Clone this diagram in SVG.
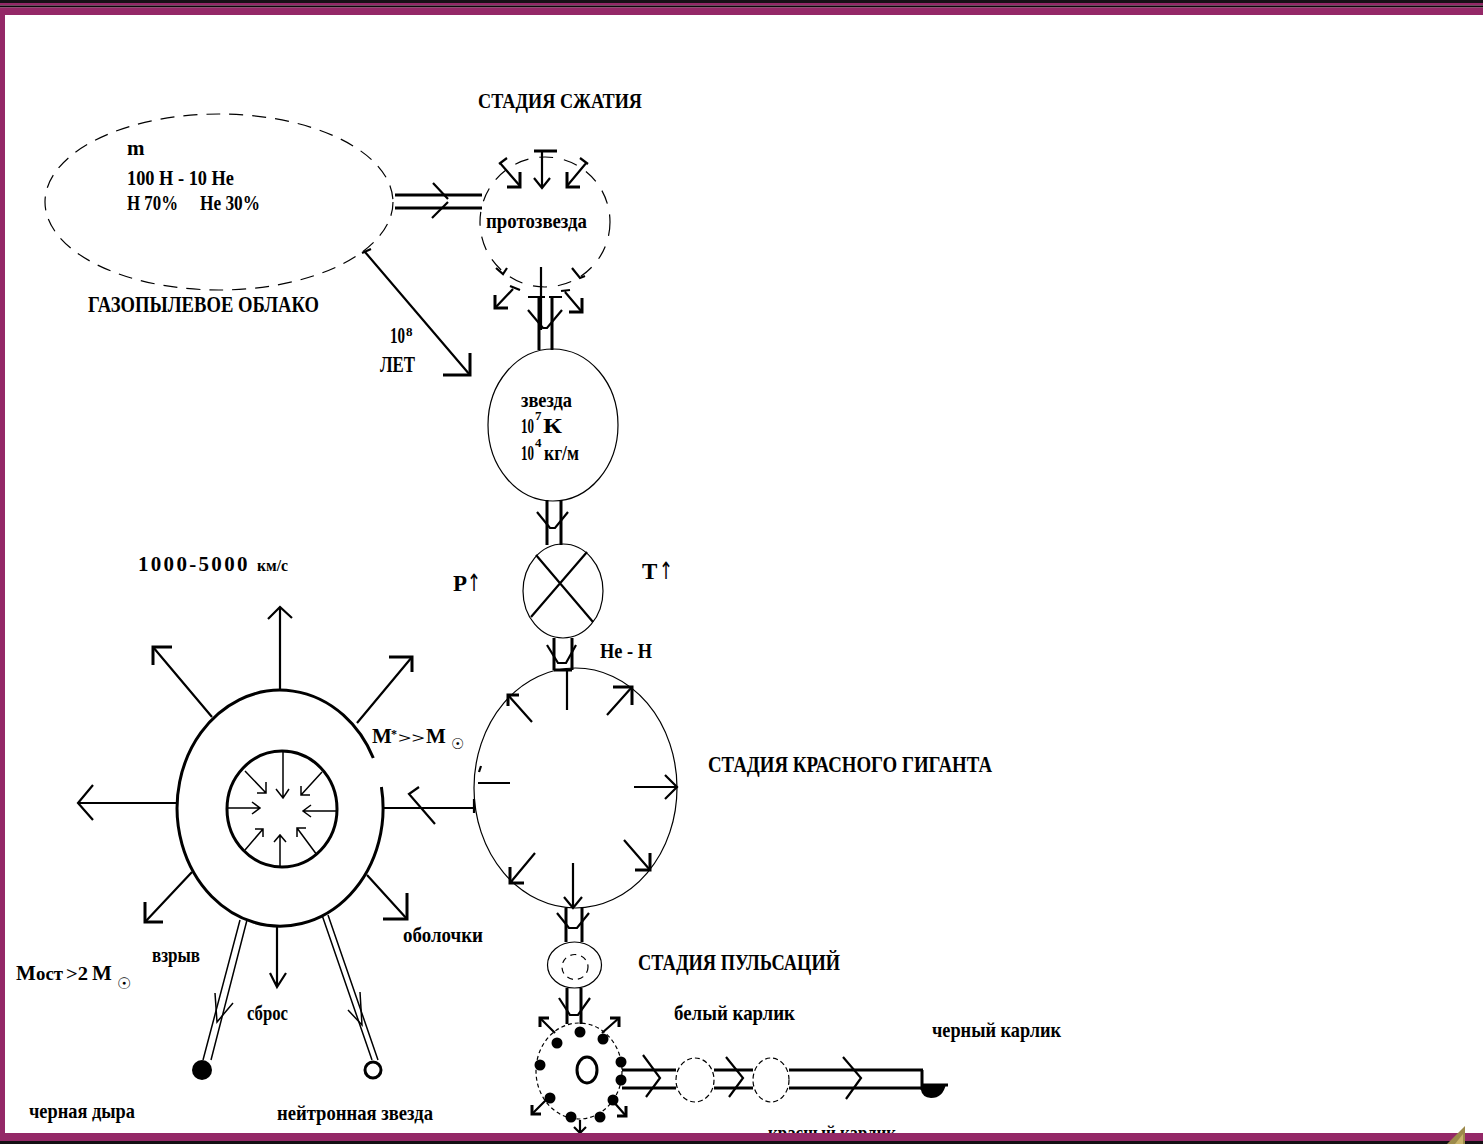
<svg xmlns="http://www.w3.org/2000/svg" width="1483" height="1144" viewBox="0 0 1483 1144">
<style>
.t{font-family:"Liberation Serif","Times New Roman",serif;font-weight:bold;fill:#000;font-size:21px}
.big{font-size:23px}
.thin{fill:none;stroke:#000;stroke-width:1.2}
.ln{fill:none;stroke:#000;stroke-width:2.2}
.thk{fill:none;stroke:#000;stroke-width:3}
.tn{fill:none;stroke:#000;stroke-width:1.5}
.sym{font-family:"DejaVu Sans",sans-serif;font-weight:normal}
</style>
<rect x="0" y="0" width="1483" height="1144" fill="#fff"/>

<g id="connectors">
  <path class="thk" d="M395 195H482M395 208H482"/>
  <path class="ln" d="M433 183L448 199M448 202L432 218"/>
  <path class="ln" d="M365 252L470 375M362 253L371 249"/>
  <path class="thk" d="M470 353V375H443"/>
  <path class="ln" d="M541 267V330"/>
  <path class="thk" d="M539 297V350M552 297V350"/>
  <path class="ln" d="M528 297H545M549 297H562M528 310L543 328L547 328L562 310"/>
  <path class="thk" d="M547 500V545M561 500V545"/>
  <path class="ln" d="M537 512L550 528L555 528L568 512"/>
  <path class="thk" d="M554 638V670M572 638V670M554 670H572"/>
  <path class="ln" d="M547 645L558 663L566 663L576 645"/>
  <path class="thk" d="M566 908V942M582 908V942"/>
  <path class="ln" d="M557 913L569 928L577 928L589 913"/>
  <path class="thk" d="M567 988V1024M581 988V1024"/>
  <path class="ln" d="M559 998L570 1015L578 1015L590 998"/>
  <path class="thk" d="M622 1070H676M622 1088H676M714 1070H753M714 1088H753M789 1070H923M789 1088H923"/>
  <path class="ln" d="M643 1055L660 1078L646 1097M726 1057L743 1078L729 1097M843 1057L861 1078L846 1099"/>
  <path class="ln" d="M382 808H474M474 799V813"/>
  <path class="ln" d="M419 787L409 794L435 824"/>
  <path class="tn" d="M240 920L203 1060M247 920L211 1060"/>
  <path class="tn" d="M215 993L217 1022L233 1003"/>
  <path class="tn" d="M322 915L372 1060M328 915L378 1060"/>
  <path class="tn" d="M360 992L362 1025L348 1010"/>
</g>

<g id="cloud">
  <ellipse cx="219" cy="202" rx="174" ry="88" class="thin" stroke-dasharray="14 9"/>
  <text class="t" x="127" y="155">m</text>
  <text class="t" x="127" y="185" textLength="107" lengthAdjust="spacingAndGlyphs">100 H - 10 He</text>
  <text class="t" x="127" y="210" textLength="51" lengthAdjust="spacingAndGlyphs">H 70%</text>
  <text class="t" x="200" y="210" textLength="60" lengthAdjust="spacingAndGlyphs">He 30%</text>
  <text class="t big" x="88" y="312" textLength="231" lengthAdjust="spacingAndGlyphs">ГАЗОПЫЛЕВОЕ ОБЛАКО</text>
</g>

<g id="years">
  <text class="t big" x="390" y="343"><tspan textLength="15" lengthAdjust="spacingAndGlyphs">10</tspan><tspan x="406" dy="-7" font-size="13">8</tspan></text>
  <text class="t big" x="380" y="372" textLength="35" lengthAdjust="spacingAndGlyphs">ЛЕТ</text>
</g>

<g id="protostar">
  <text class="t" x="478" y="108" textLength="164" lengthAdjust="spacingAndGlyphs">СТАДИЯ СЖАТИЯ</text>
  <circle cx="545" cy="222" r="65" class="thin" stroke-dasharray="14 11"/>
  <text class="t" x="486" y="228" textLength="101" lengthAdjust="spacingAndGlyphs">протозвезда</text>
  <path class="thk" d="M534 151H557"/>
  <path class="ln" d="M542 152V188M534 178L542 188L550 178"/>
  <path class="ln" d="M500 163L520 186M499 164L507 158M587 162L567 186M580 158L588 164"/>
  <path class="thk" d="M520 172V187H507M567 172V187H580"/>
  <path class="ln" d="M513 289L495 308M510 286L520 290M565 292L582 312M561 291L570 290"/>
  <path class="thk" d="M495 295V308H508M582 298V312H569"/>
  <path class="ln" d="M496 268L503 274L507 268M572 268L580 278L585 276"/>
</g>

<g id="star">
  <ellipse cx="553" cy="425" rx="65" ry="76" class="thin"/>
  <text class="t" x="521" y="407" textLength="51" lengthAdjust="spacingAndGlyphs">звезда</text>
  <text class="t" x="521" y="433"><tspan textLength="13" lengthAdjust="spacingAndGlyphs">10</tspan><tspan x="535" dy="-13" font-size="13">7</tspan><tspan x="543" dy="13" textLength="19" lengthAdjust="spacingAndGlyphs">К</tspan></text>
  <text class="t" x="521" y="460"><tspan textLength="13" lengthAdjust="spacingAndGlyphs">10</tspan><tspan x="535" dy="-13" font-size="13">4</tspan><tspan x="544" dy="13" textLength="35" lengthAdjust="spacingAndGlyphs">кг/м</tspan></text>
</g>

<g id="cross">
  <ellipse cx="563" cy="591" rx="40" ry="47" class="thin"/>
  <path class="ln" d="M536 555L593 622M587 552L531 617"/>
  <text class="t big" x="453" y="591">P<tspan class="sym" x="467" font-size="24" textLength="14" lengthAdjust="spacingAndGlyphs">↑</tspan></text>
  <text class="t big" x="642" y="579">T<tspan class="sym" x="659" font-size="24" textLength="14" lengthAdjust="spacingAndGlyphs">↑</tspan></text>
  <text class="t" x="600" y="658" textLength="52" lengthAdjust="spacingAndGlyphs">He - H</text>
</g>

<g id="giant">
  <ellipse cx="575.5" cy="788" rx="101.5" ry="120" class="thin"/>
  <path class="ln" d="M567 670V710"/>
  <path class="ln" d="M532 722L508 695M607 715L632 687M478 783H510M481 766L479 772M634 787H677M665 775L677 787L665 799M624 840L650 870M535 853L510 883M573 863V908M564 897L573 908L582 897"/>
  <path class="thk" d="M519 695H508V706M613 687H632V705M650 853V870H635M510 867V883H524"/>
  <text class="t big" x="708" y="772" textLength="284" lengthAdjust="spacingAndGlyphs">СТАДИЯ КРАСНОГО ГИГАНТА</text>
</g>

<g id="explosion">
  <path class="thk" d="M381.4 787A103 118 0 1 1 373.3 758"/>
  <ellipse cx="282" cy="809" rx="55" ry="58" class="thk"/>
  <path class="ln" d="M280 690V607M268 619L280 607L292 618M212 717L153 647M357 723L412 657M176 803H78M93 785L78 803L93 820M192 872L145 922M277 925V987M270 973L277 987L286 973M367 875L407 919"/>
  <path class="thk" d="M172 647H153V665M389 657H412V672M145 902V922H163M407 893V919H383"/>
  <path class="tn" d="M283 751V798M276 789L283 798L289 789M245 771L266 793M266 782V793H257M322 772L301 795M310 795H301V786M227 808H260M252 802L260 808L252 814M337 811H303M311 805L303 811L311 817M245 850L263 829M255 829H263V837M280 867V835M274 842L280 835L286 842M317 855L297 828M306 828H297V837"/>
  <text class="t" x="138" y="571"><tspan textLength="117" lengthAdjust="spacing">1000-5000 </tspan><tspan x="257" font-size="17" textLength="31" lengthAdjust="spacingAndGlyphs">км/с</tspan></text>
  <text class="t" x="372" y="743">M<tspan x="391" font-size="12" dy="-5">*</tspan><tspan x="398" font-size="15" dy="5" textLength="27" lengthAdjust="spacingAndGlyphs">&gt;&gt;</tspan><tspan x="426">M</tspan><tspan class="sym" x="451" font-size="15" dy="6">☉</tspan></text>
  <text class="t" x="403" y="942" textLength="80" lengthAdjust="spacingAndGlyphs">оболочки</text>
  <text class="t" x="152" y="962" font-size="19" textLength="48" lengthAdjust="spacingAndGlyphs">взрыв</text>
  <text class="t" x="247" y="1020" textLength="41" lengthAdjust="spacingAndGlyphs">сброс</text>
  <text class="t" x="16" y="980">M<tspan x="36" font-size="19" textLength="27" lengthAdjust="spacingAndGlyphs">ост</tspan><tspan x="66" font-size="19" textLength="22" lengthAdjust="spacingAndGlyphs">&gt;2</tspan><tspan x="92">M</tspan><tspan class="sym" x="117" font-size="16" dy="9">☉</tspan></text>
</g>

<g id="black-hole">
  <circle cx="202" cy="1070" r="10" fill="#000"/>
  <text class="t" x="29" y="1118" textLength="106" lengthAdjust="spacingAndGlyphs">черная дыра</text>
</g>

<g id="neutron-star">
  <circle cx="373" cy="1070" r="8" fill="#fff" stroke="#000" stroke-width="3"/>
  <text class="t" x="277" y="1120" textLength="156" lengthAdjust="spacingAndGlyphs">нейтронная звезда</text>
</g>

<g id="pulsation">
  <ellipse cx="574.5" cy="965" rx="27" ry="23" class="thin"/>
  <ellipse cx="575" cy="967" rx="13" ry="12.5" class="thin" stroke-dasharray="6 5"/>
  <text class="t big" x="638" y="970" textLength="202" lengthAdjust="spacingAndGlyphs">СТАДИЯ ПУЛЬСАЦИЙ</text>
</g>

<g id="white-dwarf">
  <ellipse cx="579" cy="1071" rx="43" ry="48" class="thin" stroke-dasharray="4 3"/>
  <g fill="#000">
    <circle cx="580" cy="1032" r="5.5"/><circle cx="557" cy="1043" r="5.5"/><circle cx="603" cy="1039" r="5.5"/>
    <circle cx="540" cy="1065" r="5.5"/><circle cx="621" cy="1062" r="5.5"/><circle cx="621" cy="1080" r="5.5"/>
    <circle cx="550" cy="1098" r="5.5"/><circle cx="613" cy="1100" r="5.5"/><circle cx="571" cy="1117" r="5.5"/>
    <circle cx="600" cy="1117" r="5.5"/>
  </g>
  <ellipse cx="587" cy="1070" rx="10" ry="13" class="thk"/>
  <path class="ln" d="M555 1033L540 1018M602 1033L619 1018M546 1100L532 1114M612 1100L626 1116M580 1120V1133M574 1127L580 1133L586 1127"/>
  <path class="thk" d="M549 1018H540V1027M610 1018H619V1027M532 1105V1114H541M626 1106V1116H617"/>
  <text class="t" x="674" y="1020" textLength="121" lengthAdjust="spacingAndGlyphs">белый карлик</text>
</g>

<g id="red-dwarf-1">
  <ellipse cx="695" cy="1080" rx="19" ry="22" class="thin" stroke-dasharray="5 3"/>
</g>
<g id="red-dwarf-2">
  <ellipse cx="771" cy="1080" rx="18" ry="22" class="thin" stroke-dasharray="5 3"/>
  <text class="t" x="768" y="1140" textLength="128" lengthAdjust="spacingAndGlyphs">красный карлик</text>
</g>

<g id="black-dwarf">
  <path class="thk" d="M922 1070V1090M921 1085H948"/>
  <path d="M921 1084H946Q943 1098 931 1098Q922 1097 921 1090Z" fill="#000"/>
  <text class="t" x="932" y="1037" textLength="129" lengthAdjust="spacingAndGlyphs">черный карлик</text>
</g>

<g id="frame">
  <rect x="0" y="0" width="1483" height="3" fill="#161016"/>
  <rect x="0" y="3" width="1483" height="2.5" fill="#942867"/>
  <rect x="0" y="5.5" width="1483" height="2" fill="#0a0508"/>
  <rect x="0" y="7.5" width="1483" height="7.5" fill="#942867"/>
  <rect x="0" y="15" width="5" height="1120" fill="#942867"/>
  <rect x="0" y="1133" width="1483" height="8" fill="#942867"/>
  <rect x="0" y="1141" width="1483" height="3" fill="#141014"/>
  <polygon points="1447,1144 1465,1126 1465,1144" fill="#9c8a4a"/>
  <polygon points="1455,1144 1463,1134 1463,1144" fill="#c9b36a"/>
</g>
</svg>
